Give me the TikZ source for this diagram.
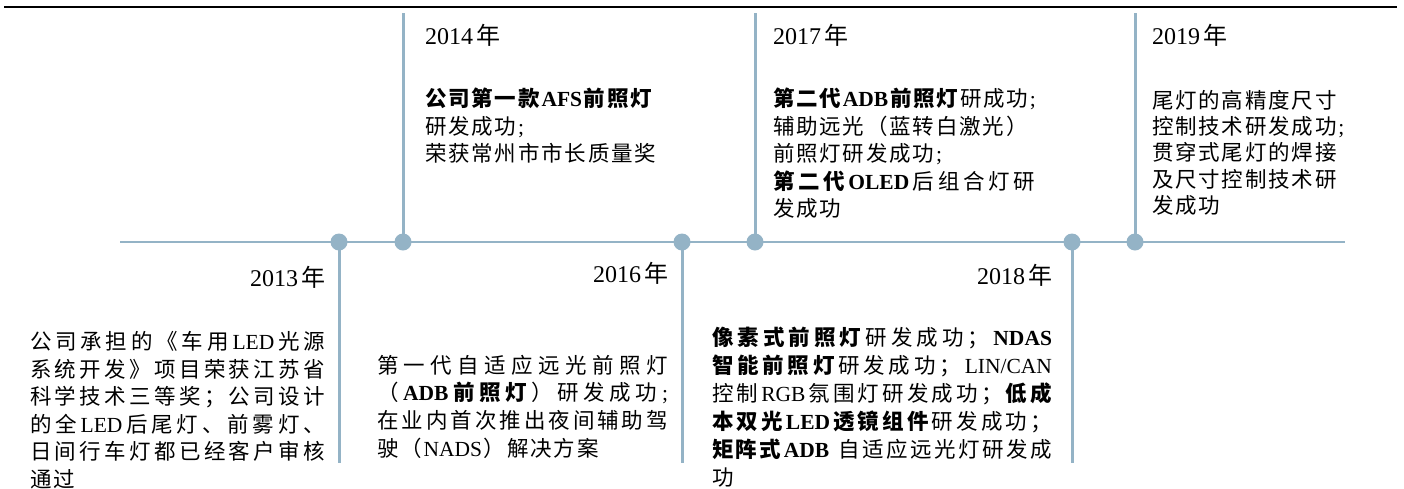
\documentclass[tikz,border=0pt]{standalone}
\usepackage{fontspec}
\setmainfont{Liberation Serif}
\newfontfamily\cjk{Noto Sans CJK SC}
\definecolor{tlblue}{RGB}{148,179,198}
\let\lat\rmfamily
\newdimen\cjgap \cjgap=1.8pt
\newif\iftlfirst
\def\tlon{tlon}\def\tloff{tloff}
\def\tlspread#1{\tlfirsttrue\let\tlcur\relax\tlspreadB#1\relax}
\def\tlspreadB#1{%
 \ifx\relax#1\else
   \ifx\tlon#1\let\tlcur\bfseries\else
   \ifx\tloff#1\let\tlcur\relax\else
     \iftlfirst\tlfirstfalse\else\hskip\cjgap plus 1fil\fi{\tlcur#1}\fi\fi
   \expandafter\tlspreadB\fi}
\def\jline#1#2{\hbox to #1{\tlspread{#2}}}
\def\nline#1{\hbox{\tlspread{#1}}}
\def\tlblock#1#2{\vtop{\baselineskip=#1\relax\lineskip=0pt\lineskiplimit=-20pt #2}}
\begin{document}
\begin{tikzpicture}[x=1pt,y=-1pt,
  dotst/.style={circle,fill=tlblue,inner sep=0pt,minimum size=17pt},
  tline/.style={draw=tlblue,line width=2.7pt},
  vline/.style={draw=tlblue,line width=3pt},
  rulest/.style={draw=black,line width=2.3pt},
  yearst/.style={inner sep=0pt,outer sep=0pt,font=\fontsize{24}{24}\selectfont},
  bodyst/.style={inner sep=0pt,outer sep=0pt,anchor=base west,font=\fontsize{21.5}{27.6}\selectfont\cjk}]
\useasboundingbox (0,0) rectangle (1404,488);
% top rule
\coordinate (rl) at (4,7);
\coordinate (rr) at (1397,7);
\draw[rulest] (rl) -- (rr);
% timeline
\coordinate (ts) at (120,242);
\coordinate (te) at (1345,242);
\draw[tline] (ts) -- (te);
% dot centres and stem ends
\coordinate (c2013) at (339,242); \coordinate (e2013) at (339,463);
\coordinate (c2014) at (403,242); \coordinate (e2014) at (403,13);
\coordinate (c2016) at (682,242); \coordinate (e2016) at (682,463);
\coordinate (c2017) at (755,242); \coordinate (e2017) at (755,13);
\coordinate (c2018) at (1072,242); \coordinate (e2018) at (1072,463);
\coordinate (c2019) at (1135,242); \coordinate (e2019) at (1135,13);
\foreach \y in {2013,2014,2016,2017,2018,2019}{\draw[vline] (c\y) -- (e\y);}
\foreach \y in {2013,2014,2016,2017,2018,2019}{\node[dotst] (d\y) at (c\y) {};}
% years
\node[yearst,anchor=base east] (y2013) at (325,286) {2013\hspace{3pt}{\cjk 年}};
\node[yearst,anchor=base west] (y2014) at (425,44) {2014\hspace{3pt}{\cjk 年}};
\node[yearst,anchor=base east] (y2016) at (668,282) {2016\hspace{3pt}{\cjk 年}};
\node[yearst,anchor=base west] (y2017) at (773,44) {2017\hspace{3pt}{\cjk 年}};
\node[yearst,anchor=base east] (y2018) at (1052,284) {2018\hspace{3pt}{\cjk 年}};
\node[yearst,anchor=base west] (y2019) at (1152,44) {2019\hspace{3pt}{\cjk 年}};
% texts
\node[bodyst] (t2013) at (30,349.5) {\tlblock{27.6pt}{%
\jline{295pt}{公司承担的《车用{\lat LED}光源}
\jline{295pt}{系统开发》项目荣获江苏省}
\jline{295pt}{科学技术三等奖；公司设计}
\jline{295pt}{的全{\lat LED}后尾灯、前雾灯、}
\jline{295pt}{日间行车灯都已经客户审核}
\nline{通过}}};
\node[bodyst] (t2014) at (425,106.5) {\tlblock{27.5pt}{%
\nline{\tlon 公司第一款{\lat AFS}前照灯}
\nline{研发成功{\lat ;}}
\nline{荣获常州市市长质量奖}}};
\node[bodyst] (t2016) at (377,373) {\tlblock{27.7pt}{%
\jline{291pt}{第一代自适应远光前照灯}
\jline{291pt}{（\tlon{\lat ADB}前照灯\tloff）研发成功{\lat ;}}
\jline{291pt}{在业内首次推出夜间辅助驾}
\nline{驶（{\lat NADS}）解决方案}}};
\node[bodyst] (t2017) at (773,106.5) {\tlblock{27.5pt}{%
\nline{\tlon 第二代{\lat ADB}前照灯\tloff 研成功{\lat ;}}
\nline{辅助远光（蓝转白激光）}
\nline{前照灯研发成功{\lat ;}}
\jline{262pt}{\tlon 第二代{\lat OLED}\tloff 后组合灯研}
\nline{发成功}}};
\node[bodyst] (t2018) at (712,345.5) {\tlblock{28pt}{%
\jline{340pt}{\tlon 像素式前照灯\tloff 研发成功；\tlon{\lat NDAS}}
\jline{340pt}{\tlon 智能前照灯\tloff 研发成功；{\lat LIN/CAN}}
\jline{340pt}{控制{\lat RGB}氛围灯研发成功；\tlon 低成}
\jline{340pt}{\tlon 本双光{\lat LED}透镜组件\tloff 研发成功；}
\jline{340pt}{\tlon 矩阵式{\lat ADB}\tloff{\ }自适应远光灯研发成}
\nline{功}}};
\node[bodyst] (t2019) at (1152,108.4) {\tlblock{26.2pt}{%
\nline{尾灯的高精度尺寸}
\nline{控制技术研发成功{\lat ;}}
\nline{贯穿式尾灯的焊接}
\nline{及尺寸控制技术研}
\nline{发成功}}};
\end{tikzpicture}
\end{document}
